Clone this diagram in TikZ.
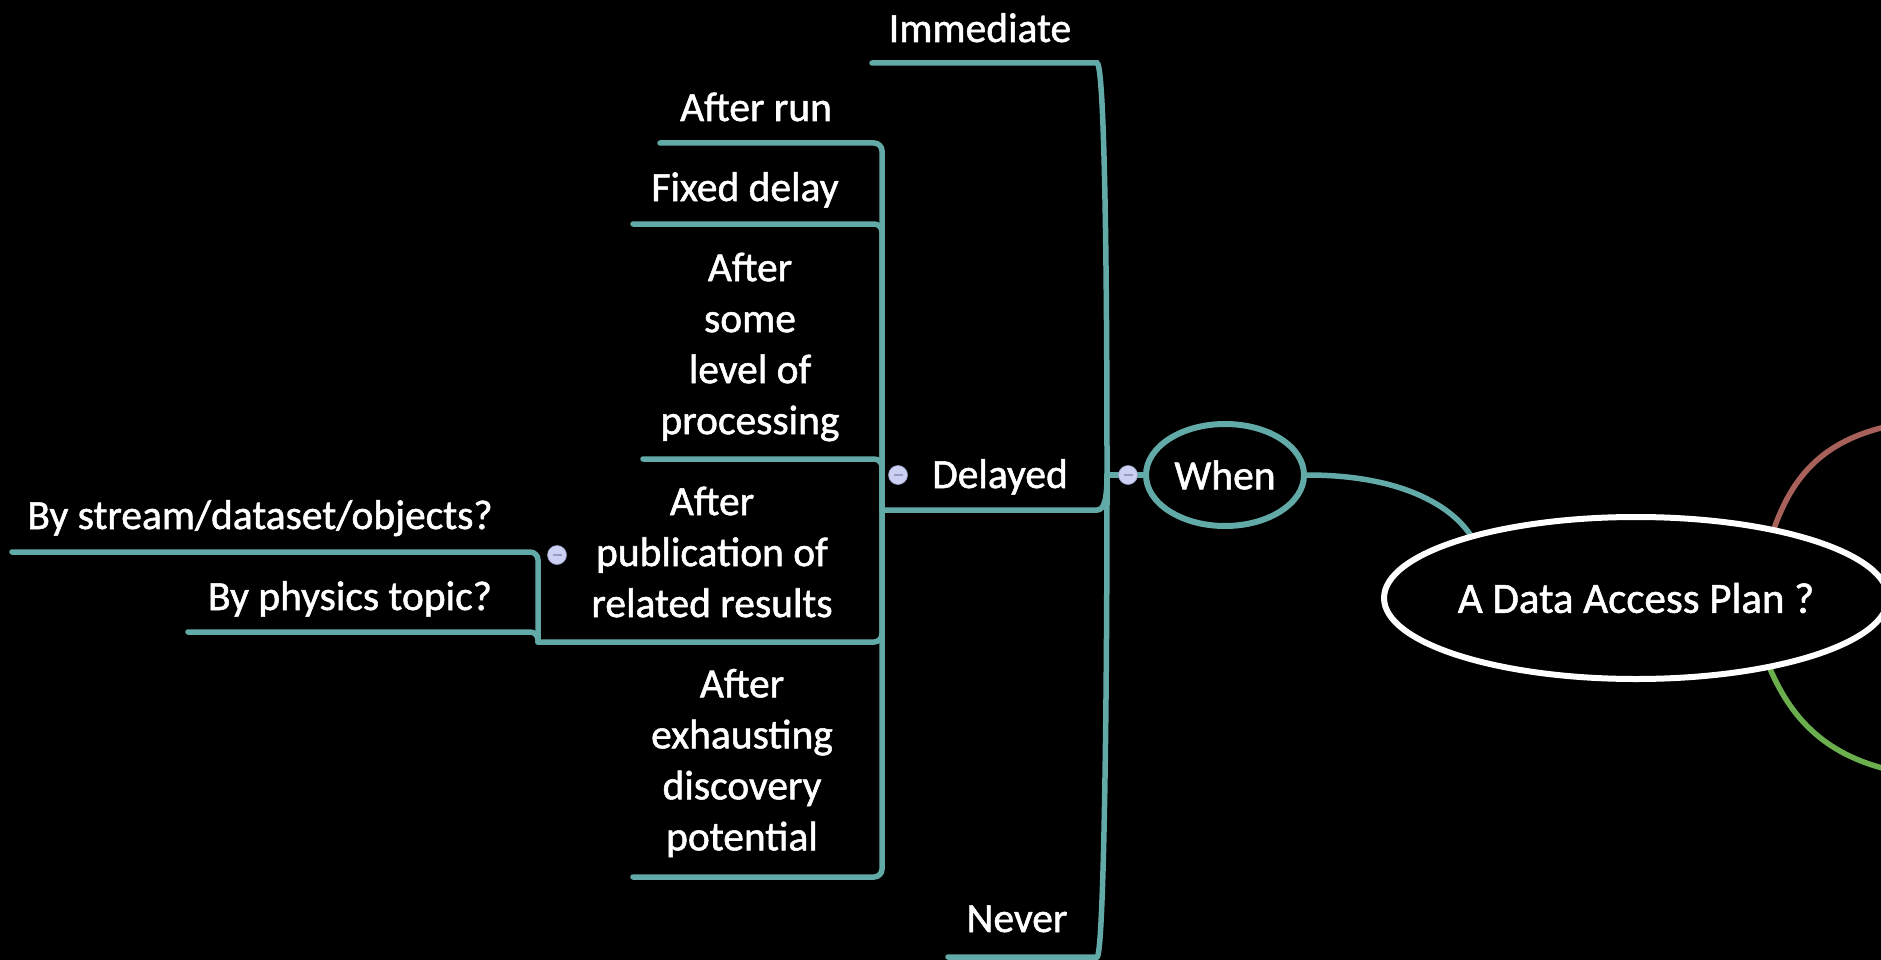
\documentclass[tikz,border=0pt]{standalone}
\usepackage{fontspec}
\setmainfont{Carlito}[FakeBold=1.3]
\usetikzlibrary{shapes.geometric}
\definecolor{branch}{RGB}{98,170,168}
\definecolor{redbranch}{RGB}{168,97,90}
\definecolor{greenbranch}{RGB}{106,174,78}
\definecolor{knobfill}{RGB}{204,208,242}
\definecolor{knobmark}{RGB}{150,156,196}
\pgfdeclarelayer{canvas}
\pgfdeclarelayer{wires}
\pgfsetlayers{canvas,wires,main}
\tikzset{
  topic/.style={text=white, inner sep=0pt, align=center, font=\fontsize{41.5}{51}\selectfont},
  wire/.style={draw=branch, line width=5.5pt, line cap=round},
  elbow/.style={wire, rounded corners=8pt},
  knob/.style={circle, fill=knobfill, draw=knobmark, line width=0.6pt, minimum size=19pt, inner sep=0pt,
    path picture={\draw[knobmark, line width=1.6pt]
      ([xshift=-4.5pt]path picture bounding box.center) -- ([xshift=4.5pt]path picture bounding box.center);}},
  bubble/.style={ellipse, fill=black, line width=6pt, inner sep=0pt, text=white},
}
\begin{document}
\begin{tikzpicture}[x=1pt,y=-1pt]
\useasboundingbox (0,0) rectangle (1881,960);
\begin{pgfonlayer}{canvas}
  \fill[black] (0,0) rectangle (1881,960);
\end{pgfonlayer}

% central topic and its first branch
\node[bubble, draw=white, minimum width=480pt, minimum height=162pt,
      font=\fontsize{43}{51}\selectfont] (plan) at (1636,598) {A Data Access Plan ?};
\node[bubble, draw=branch, minimum width=158pt, minimum height=102pt,
      font=\fontsize{41.5}{51}\selectfont] (when) at (1225,475) {When};

% children of "When"
\node[topic, anchor=base] (immediate) at (980,42) {Immediate};
\node[topic, anchor=base] (delayed) at (1000,488) {Delayed};
\node[topic, anchor=base] (never) at (1017,932) {Never};

% children of "Delayed"
\node[topic, anchor=base] (afterrun) at (756,121) {After run};
\node[topic, anchor=base] (fixed) at (745,201) {Fixed delay};
\node[topic] (processing) at (750,347) {After\\some\\level of\\processing};
\node[topic] (publication) at (712,552) {After\\publication of\\related results};
\node[topic] (exhausting) at (742,763) {After\\exhausting\\discovery\\potential};

% children of "After publication of related results"
\node[topic, anchor=base] (stream) at (260,529) {By stream/dataset/objects?};
\node[topic, anchor=base] (physics) at (350,610) {By physics topic?};

% collapse knobs
\node[knob] (whenknob) at (1128,475) {};
\node[knob] (delayedknob) at (898,475) {};
\node[knob] (pubknob) at (557,555) {};

% branch points and underline ends
\coordinate (whenhub) at (1107,475);
\coordinate (immR) at (1097,63);   \coordinate (immL) at (872,63);
\coordinate (delR) at (1097,510);  \coordinate (delhub) at (882,510);
\coordinate (nevR) at (1097,957);  \coordinate (nevL) at (948,957);
\coordinate (arL) at (660,143);
\coordinate (fdL) at (633,224);
\coordinate (prL) at (643,459);
\coordinate (pubhub) at (538,642);
\coordinate (exL) at (633,877);
\coordinate (bsL) at (12,552);
\coordinate (bpL) at (188,632);
\coordinate (redEnd) at (1905,423);
\coordinate (greenEnd) at (1905,773);

\begin{pgfonlayer}{wires}
  % "When" to the central topic
  \draw[wire] (when.east) .. controls (1400,475) and (1450,505) .. (plan.159);
  % other main branches leaving the central topic
  \draw[wire, draw=redbranch] (plan.27) .. controls (1795,470) and (1830,435) .. (redEnd);
  \draw[wire, draw=greenbranch] (plan.-28) .. controls (1793,722) and (1830,760) .. (greenEnd);

  % "When" bracket
  \draw[wire] (when.west) -- (whenhub);
  \draw[wire] (whenhub) .. controls (1107,200) and (1103,63) .. (immR) -- (immL);
  \draw[wire] (whenhub) .. controls (1107,750) and (1103,957) .. (nevR) -- (nevL);
  \draw[wire] (whenhub) .. controls (1107,500) and (1104,510) .. (delR) -- (delhub);

  % "Delayed" bracket
  \draw[elbow] (delhub) |- (arL);
  \draw[elbow] (delhub) |- (fdL);
  \draw[elbow] (delhub) |- (prL);
  \draw[elbow] (delhub) |- (pubhub);
  \draw[elbow] (delhub) |- (exL);

  % "After publication" bracket
  \draw[elbow] (pubhub) |- (bsL);
  \draw[elbow] (pubhub) |- (bpL);
\end{pgfonlayer}
\end{tikzpicture}
\end{document}
